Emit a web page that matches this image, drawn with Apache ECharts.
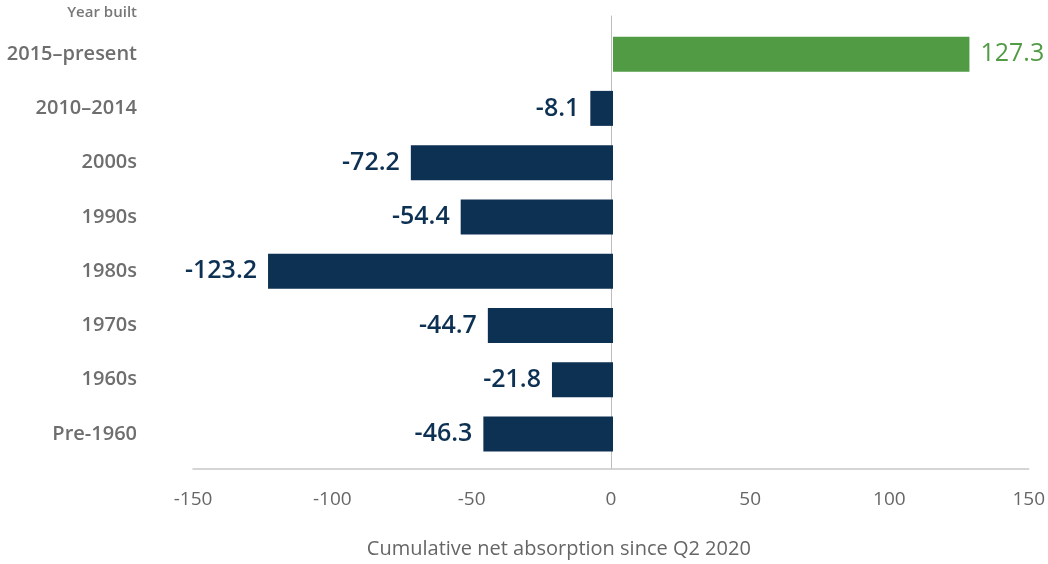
<!DOCTYPE html>
<html>
<head>
<meta charset="utf-8">
<script src="https://cdn.jsdelivr.net/npm/echarts@6/dist/echarts.min.js"></script>
<style>
html,body{margin:0;padding:0;background:#fff;}
#chart{width:1048px;height:564px;}
</style>
</head>
<body>
<div id="chart"></div>
<script>
const categories = ['2015–present', '2010–2014', '2000s', '1990s', '1980s', '1970s', '1960s', 'Pre-1960'];
const values = [127.3, -8.1, -72.2, -54.4, -123.2, -44.7, -21.8, -46.3];
const xTicks = [-150, -100, -50, 0, 50, 100, 150];
const axisTitle = 'Cumulative net absorption since Q2 2020';
const categoryTitle = 'Year built';

const GREEN = '#519b45';
const NAVY = '#0d3152';
const FONT = '"Open Sans", sans-serif';

const chart = echarts.init(document.getElementById('chart'));
const seriesData = values.map(v => ({
  value: v,
  itemStyle: { color: v >= 0 ? GREEN : NAVY },
  label: {
    position: v >= 0 ? 'right' : 'left',
    color: v >= 0 ? GREEN : NAVY,
    fontWeight: v >= 0 ? 400 : 600
  }
}));

chart.setOption({
  animation: false,
  backgroundColor: '#fff',
  textStyle: { fontFamily: FONT },
  title: {
    text: categoryTitle,
    right: 911,
    top: 5,
    padding: 0,
    textStyle: { fontFamily: FONT, fontSize: 15, fontWeight: 600, color: '#777' }
  },
  grid: [
    { left: 193, right: 15, top: 27, height: 434, containLabel: false },
    { left: 193, right: 15, top: 16, bottom: 92, containLabel: false }
  ],
  xAxis: [
    { gridIndex: 0, type: 'value', min: xTicks[0], max: xTicks[xTicks.length - 1], show: false },
    {
      gridIndex: 1, type: 'value', min: xTicks[0], max: xTicks[xTicks.length - 1], interval: 50,
      axisLine: { show: true, onZero: false, lineStyle: { color: '#c8c8c8', width: 1.5 } },
      axisTick: { show: false },
      splitLine: { show: false },
      axisLabel: { margin: 21, fontFamily: FONT, fontSize: 19, color: '#666' },
      name: axisTitle,
      nameLocation: 'middle',
      nameGap: 70,
      nameTextStyle: { fontFamily: FONT, fontSize: 20, color: '#666', padding: [0, 104, 0, 0] }
    }
  ],
  yAxis: [
    {
      gridIndex: 0, type: 'category', data: categories, inverse: true,
      axisLine: { show: false }, axisTick: { show: false }, splitLine: { show: false },
      axisLabel: { margin: 56, fontFamily: FONT, fontSize: 20, fontWeight: 600, color: '#6e6e6e', padding: [6, 0, 0, 0] }
    },
    {
      gridIndex: 1, type: 'value', min: 0, max: 1,
      axisLine: { show: true, onZero: true, lineStyle: { color: '#bdbdbd', width: 1 } },
      axisTick: { show: false }, axisLabel: { show: false }, splitLine: { show: false }
    }
  ],
  series: [{
    type: 'bar',
    xAxisIndex: 0,
    yAxisIndex: 0,
    data: seriesData,
    barWidth: 35,
    label: {
      show: true,
      distance: 11,
      fontFamily: FONT,
      fontSize: 25,
      formatter: p => p.value.toFixed(1)
    }
  }]
});
</script>
</body>
</html>
